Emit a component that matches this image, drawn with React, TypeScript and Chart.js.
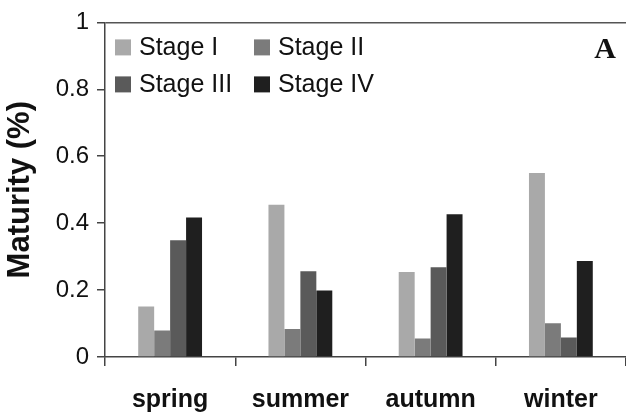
import React, { useEffect, useRef } from "react";
import { Chart, registerables } from "chart.js";

Chart.register(...registerables);

const categories = ["spring", "summer", "autumn", "winter"];
const stageLabels = ["Stage I", "Stage II", "Stage III", "Stage IV"];
const stageI = [0.151, 0.455, 0.254, 0.55];
const stageII = [0.079, 0.084, 0.055, 0.101];
const stageIII = [0.349, 0.256, 0.268, 0.058];
const stageIV = [0.417, 0.199, 0.427, 0.287];
const stageColors = ["#a9a9a9", "#7b7b7b", "#5a5a5a", "#1f1f1f"];
const yTicks = [0, 0.2, 0.4, 0.6, 0.8, 1];
const panelLetter = "A";

const FONT = "'Liberation Sans', Arial, sans-serif";

const legendPlugin = {
  id: "customLegend",
  afterDraw(chart: any) {
    const ctx = chart.ctx;
    const area = chart.chartArea;
    const cols = [area.left + 10, area.left + 149];
    const rows = [area.top + 25, area.top + 62];
    ctx.save();
    ctx.font = `25px ${FONT}`;
    ctx.textBaseline = "middle";
    ctx.textAlign = "left";
    chart.data.datasets.forEach((ds: any, i: number) => {
      const x = cols[i % 2];
      const y = rows[Math.floor(i / 2)];
      ctx.fillStyle = ds.backgroundColor;
      ctx.fillRect(x, y - 8, 16, 16);
      ctx.fillStyle = "#111";
      ctx.fillText(ds.label, x + 24, y + 1);
    });
    ctx.font = `bold 30px 'Liberation Serif', 'Times New Roman', serif`;
    ctx.textAlign = "center";
    ctx.fillStyle = "#111";
    ctx.fillText(panelLetter, area.right - 21, area.top + 28);
    ctx.restore();
  },
};

export default function App() {
  const ref = useRef<HTMLCanvasElement>(null);
  useEffect(() => {
    if (!ref.current) return;
    const series = [stageI, stageII, stageIII, stageIV];
    const chart = new Chart(ref.current, {
      type: "bar",
      data: {
        labels: categories,
        datasets: series.map((d, i) => ({
          label: stageLabels[i],
          data: d,
          backgroundColor: stageColors[i],
          borderWidth: 0,
          categoryPercentage: 0.49,
          barPercentage: 1.0,
        })),
      },
      options: {
        animation: false,
        responsive: true,
        maintainAspectRatio: false,
        layout: { padding: { top: 17, right: 0, left: 0, bottom: 0 } },
        plugins: {
          legend: { display: false },
          tooltip: { enabled: false },
        },
        scales: {
          x: {
            offset: true,
            grid: {
              display: true,
              offset: true,
              drawOnChartArea: false,
              tickLength: 9,
              color: "#444",
              lineWidth: 1.5,
            },
            border: { color: "#444", width: 1.5 },
            ticks: {
              color: "#111",
              font: { family: FONT, size: 25, weight: "bold" },
              padding: 19,
              maxRotation: 0,
            },
            afterFit(scale: any) {
              scale.height = 55;
            },
          },
          y: {
            min: 0,
            max: 1,
            afterBuildTicks(scale: any) {
              scale.ticks = yTicks.map((v) => ({ value: v }));
            },
            grid: {
              drawOnChartArea: true,
              tickLength: 8,
              color: (c: any) => (c.tick && c.tick.value === 1 ? "#555" : "rgba(0,0,0,0)"),
              tickColor: "#444",
              lineWidth: 1.5,
            },
            border: { color: "#444", width: 1.5 },
            ticks: {
              color: "#111",
              font: { family: FONT, size: 24 },
              padding: 8,
              callback: (v: any) => String(v),
            },
            title: {
              display: true,
              text: "Maturity (%)",
              color: "#111",
              font: { family: FONT, size: 31, weight: "bold" },
              padding: { top: 2, bottom: 0 },
            },
            afterFit(scale: any) {
              scale.width = 105;
            },
          },
        },
      },
      plugins: [legendPlugin],
    });
    return () => chart.destroy();
  }, []);
  return (
    <div style={{ position: "absolute", left: 0, top: 0, width: 626, height: 412, background: "#fff" }}>
      <canvas ref={ref} />
    </div>
  );
}
